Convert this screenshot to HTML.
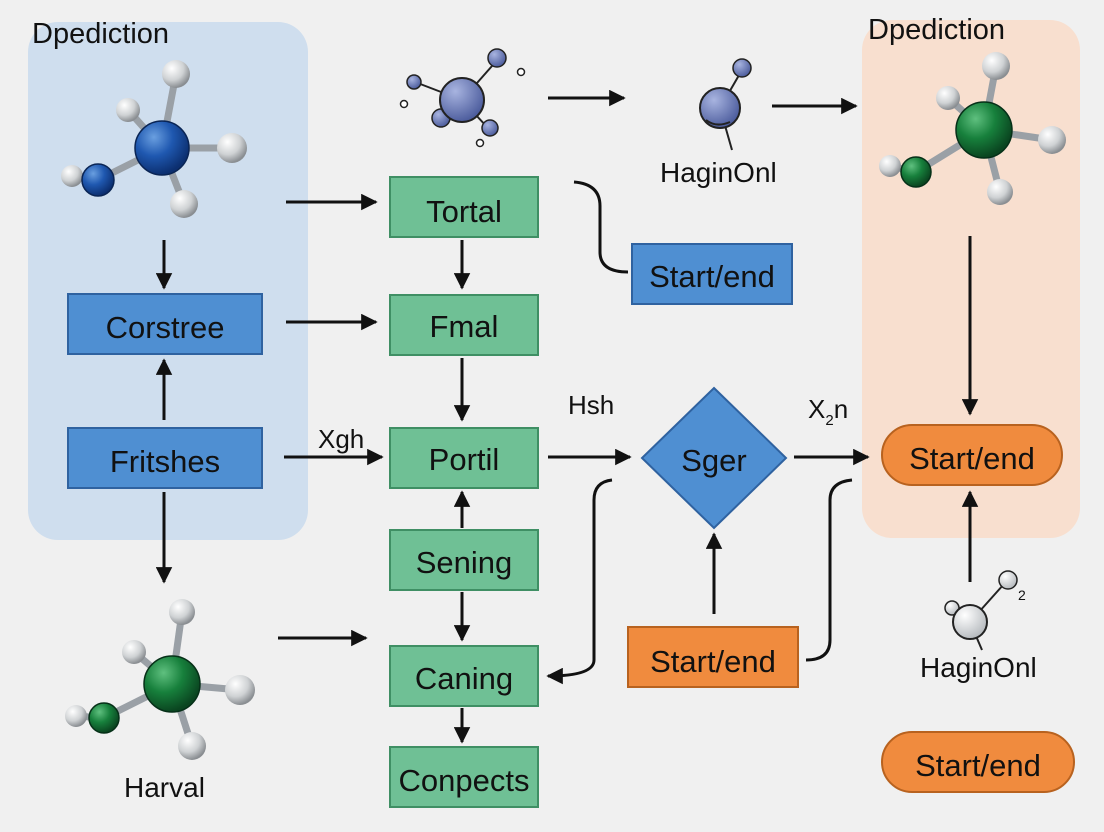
<!DOCTYPE html>
<html><head><meta charset="utf-8"><style>
html,body{margin:0;padding:0;background:#f0f0f0;}
svg{display:block;font-family:"Liberation Sans","DejaVu Sans",sans-serif;}
</style></head><body>
<svg width="1104" height="832" viewBox="0 0 1104 832" xmlns="http://www.w3.org/2000/svg">
<defs>
<marker id="ah" viewBox="0 0 10 10" refX="9" refY="5" markerWidth="5.5" markerHeight="5.5" orient="auto-start-reverse"><path d="M0,0 L10,5 L0,10 z" fill="#111"/></marker>
<radialGradient id="gB" cx="35%" cy="30%" r="70%"><stop offset="0" stop-color="#6a9fe0"/><stop offset="0.5" stop-color="#1f58b0"/><stop offset="1" stop-color="#0c2f70"/></radialGradient>
<radialGradient id="gW" cx="35%" cy="30%" r="70%"><stop offset="0" stop-color="#ffffff"/><stop offset="0.6" stop-color="#cfd2d4"/><stop offset="1" stop-color="#8a8e92"/></radialGradient>
<radialGradient id="gG" cx="35%" cy="30%" r="70%"><stop offset="0" stop-color="#5fc07f"/><stop offset="0.5" stop-color="#17803c"/><stop offset="1" stop-color="#0a4520"/></radialGradient>
<radialGradient id="gP" cx="35%" cy="30%" r="70%"><stop offset="0" stop-color="#a8b4e0"/><stop offset="1" stop-color="#4e5e9e"/></radialGradient>
<radialGradient id="gL" cx="35%" cy="30%" r="70%"><stop offset="0" stop-color="#ffffff"/><stop offset="1" stop-color="#b8bcc0"/></radialGradient>
</defs>
<rect width="1104" height="832" fill="#f0f0f0"/>
<rect x="28" y="22" width="280" height="518" rx="30" fill="#cfdeee"/>
<rect x="862" y="20" width="218" height="518" rx="30" fill="#f8dfcf"/>

<g font-size="29" fill="#111">
<text x="32" y="43">Dpediction</text>
<text x="868" y="39">Dpediction</text>
</g>

<g stroke="#9aa0a6" stroke-width="7" stroke-linecap="round">
<line x1="162" y1="148" x2="176" y2="74"/><line x1="162" y1="148" x2="128" y2="110"/>
<line x1="162" y1="148" x2="232" y2="148"/><line x1="162" y1="148" x2="184" y2="204"/>
<line x1="162" y1="148" x2="98" y2="180"/><line x1="98" y1="180" x2="72" y2="176"/>
</g>
<circle cx="176" cy="74" r="14" fill="url(#gW)"/><circle cx="128" cy="110" r="12" fill="url(#gW)"/>
<circle cx="232" cy="148" r="15" fill="url(#gW)"/><circle cx="184" cy="204" r="14" fill="url(#gW)"/>
<circle cx="72" cy="176" r="11" fill="url(#gW)"/>
<circle cx="98" cy="180" r="16" fill="url(#gB)" stroke="#0a2555" stroke-width="1.5"/>
<circle cx="162" cy="148" r="27" fill="url(#gB)" stroke="#0a2555" stroke-width="1.5"/>

<g stroke="#9aa0a6" stroke-width="7" stroke-linecap="round">
<line x1="984" y1="130" x2="996" y2="66"/><line x1="984" y1="130" x2="948" y2="98"/>
<line x1="984" y1="130" x2="1052" y2="140"/><line x1="984" y1="130" x2="1000" y2="192"/>
<line x1="984" y1="130" x2="916" y2="172"/><line x1="916" y1="172" x2="890" y2="166"/>
</g>
<circle cx="996" cy="66" r="14" fill="url(#gW)"/><circle cx="948" cy="98" r="12" fill="url(#gW)"/>
<circle cx="1052" cy="140" r="14" fill="url(#gW)"/><circle cx="1000" cy="192" r="13" fill="url(#gW)"/>
<circle cx="890" cy="166" r="11" fill="url(#gW)"/>
<circle cx="916" cy="172" r="15" fill="url(#gG)" stroke="#063018" stroke-width="1.5"/>
<circle cx="984" cy="130" r="28" fill="url(#gG)" stroke="#063018" stroke-width="1.5"/>

<g stroke="#9aa0a6" stroke-width="7" stroke-linecap="round">
<line x1="172" y1="684" x2="182" y2="612"/><line x1="172" y1="684" x2="134" y2="652"/>
<line x1="172" y1="684" x2="240" y2="690"/><line x1="172" y1="684" x2="192" y2="746"/>
<line x1="172" y1="684" x2="104" y2="718"/><line x1="104" y1="718" x2="76" y2="716"/>
</g>
<circle cx="182" cy="612" r="13" fill="url(#gW)"/><circle cx="134" cy="652" r="12" fill="url(#gW)"/>
<circle cx="240" cy="690" r="15" fill="url(#gW)"/><circle cx="192" cy="746" r="14" fill="url(#gW)"/>
<circle cx="76" cy="716" r="11" fill="url(#gW)"/>
<circle cx="104" cy="718" r="15" fill="url(#gG)" stroke="#063018" stroke-width="1.5"/>
<circle cx="172" cy="684" r="28" fill="url(#gG)" stroke="#063018" stroke-width="1.5"/>

<g stroke="#222" stroke-width="2">
<line x1="462" y1="100" x2="492" y2="66"/><line x1="462" y1="100" x2="415" y2="82"/>
<line x1="462" y1="100" x2="440" y2="118"/><line x1="462" y1="100" x2="488" y2="128"/>
<line x1="720" y1="108" x2="742" y2="70"/><line x1="720" y1="108" x2="732" y2="150"/>
</g>
<circle cx="414" cy="82" r="7" fill="url(#gP)" stroke="#222" stroke-width="1.5"/>
<circle cx="441" cy="118" r="9" fill="url(#gP)" stroke="#222" stroke-width="1.5"/>
<circle cx="490" cy="128" r="8" fill="url(#gP)" stroke="#222" stroke-width="1.5"/>
<circle cx="497" cy="58" r="9" fill="url(#gP)" stroke="#222" stroke-width="1.5"/>
<circle cx="462" cy="100" r="22" fill="url(#gP)" stroke="#222" stroke-width="2"/>
<g fill="#fff" stroke="#222" stroke-width="1.5"><circle cx="404" cy="104" r="3.5"/><circle cx="521" cy="72" r="3.5"/><circle cx="480" cy="143" r="3.5"/></g>
<circle cx="742" cy="68" r="9" fill="url(#gP)" stroke="#222" stroke-width="1.5"/>
<circle cx="720" cy="108" r="20" fill="url(#gP)" stroke="#222" stroke-width="2"/>
<path d="M706,120 Q716,128 730,122" fill="none" stroke="#222" stroke-width="2"/>
<text x="660" y="182" font-size="28" fill="#111">HaginOnl</text>

<g stroke="#222" stroke-width="2"><line x1="970" y1="622" x2="1004" y2="584"/><line x1="970" y1="622" x2="956" y2="608"/><line x1="970" y1="622" x2="982" y2="650"/></g>
<circle cx="1008" cy="580" r="9" fill="url(#gL)" stroke="#222" stroke-width="1.5"/>
<circle cx="952" cy="608" r="7" fill="url(#gL)" stroke="#222" stroke-width="1.5"/>
<circle cx="970" cy="622" r="17" fill="url(#gL)" stroke="#222" stroke-width="2"/>
<text x="1018" y="600" font-size="14" fill="#111">2</text>
<text x="920" y="677" font-size="28" fill="#111">HaginOnl</text>
<text x="124" y="797" font-size="28" fill="#111">Harval</text>

<g stroke="#111" stroke-width="3" fill="none" marker-end="url(#ah)">
<line x1="286" y1="202" x2="376" y2="202"/>
<line x1="286" y1="322" x2="376" y2="322"/>
<line x1="284" y1="457" x2="382" y2="457"/>
<line x1="278" y1="638" x2="366" y2="638"/>
<line x1="164" y1="240" x2="164" y2="288"/>
<line x1="164" y1="420" x2="164" y2="360"/>
<line x1="164" y1="492" x2="164" y2="582"/>
<line x1="462" y1="240" x2="462" y2="288"/>
<line x1="462" y1="358" x2="462" y2="420"/>
<line x1="462" y1="528" x2="462" y2="492"/>
<line x1="462" y1="592" x2="462" y2="640"/>
<line x1="462" y1="708" x2="462" y2="742"/>
<line x1="548" y1="98" x2="624" y2="98"/>
<line x1="772" y1="106" x2="856" y2="106"/>
<line x1="548" y1="457" x2="630" y2="457"/>
<line x1="794" y1="457" x2="868" y2="457"/>
<line x1="714" y1="614" x2="714" y2="534"/>
<line x1="970" y1="236" x2="970" y2="414"/>
<line x1="970" y1="582" x2="970" y2="492"/>
<path d="M612,480 Q594,482 594,500 L594,660 Q594,676 548,676"/>
</g>
<g stroke="#111" stroke-width="3" fill="none">
<path d="M574,182 Q600,184 600,206 L600,252 Q600,272 628,272"/>
<path d="M852,480 Q830,482 830,500 L830,640 Q830,660 806,660"/>
</g>

<g fill="#6fc095" stroke="#3f8f64" stroke-width="2">
<rect x="390" y="177" width="148" height="60"/><rect x="390" y="295" width="148" height="60"/>
<rect x="390" y="428" width="148" height="60"/><rect x="390" y="530" width="148" height="60"/>
<rect x="390" y="646" width="148" height="60"/><rect x="390" y="747" width="148" height="60"/>
</g>
<g fill="#4f8fd2" stroke="#2f62a0" stroke-width="2">
<rect x="68" y="294" width="194" height="60"/><rect x="68" y="428" width="194" height="60"/>
<rect x="632" y="244" width="160" height="60"/>
<polygon points="714,388 786,458 714,528 642,458"/>
</g>
<g fill="#f08b3e" stroke="#b8621f" stroke-width="2">
<rect x="628" y="627" width="170" height="60"/>
<rect x="882" y="425" width="180" height="60" rx="30"/>
<rect x="882" y="732" width="192" height="60" rx="30"/>
</g>

<g font-size="31" fill="#111" text-anchor="middle">
<text x="464" y="222">Tortal</text><text x="464" y="337">Fmal</text>
<text x="464" y="470">Portil</text><text x="464" y="573">Sening</text>
<text x="464" y="689">Caning</text><text x="464" y="791">Conpects</text>
<text x="165" y="338">Corstree</text><text x="165" y="472">Fritshes</text>
<text x="712" y="287">Start/end</text><text x="714" y="471">Sger</text>
<text x="713" y="672">Start/end</text><text x="972" y="469">Start/end</text>
<text x="978" y="776">Start/end</text>
</g>
<g font-size="26" fill="#111">
<text x="318" y="448">Xgh</text><text x="568" y="414">Hsh</text>
<text x="808" y="418">X<tspan font-size="15" dy="7">2</tspan><tspan dy="-7">n</tspan></text>
</g>
</svg>
</body></html>
